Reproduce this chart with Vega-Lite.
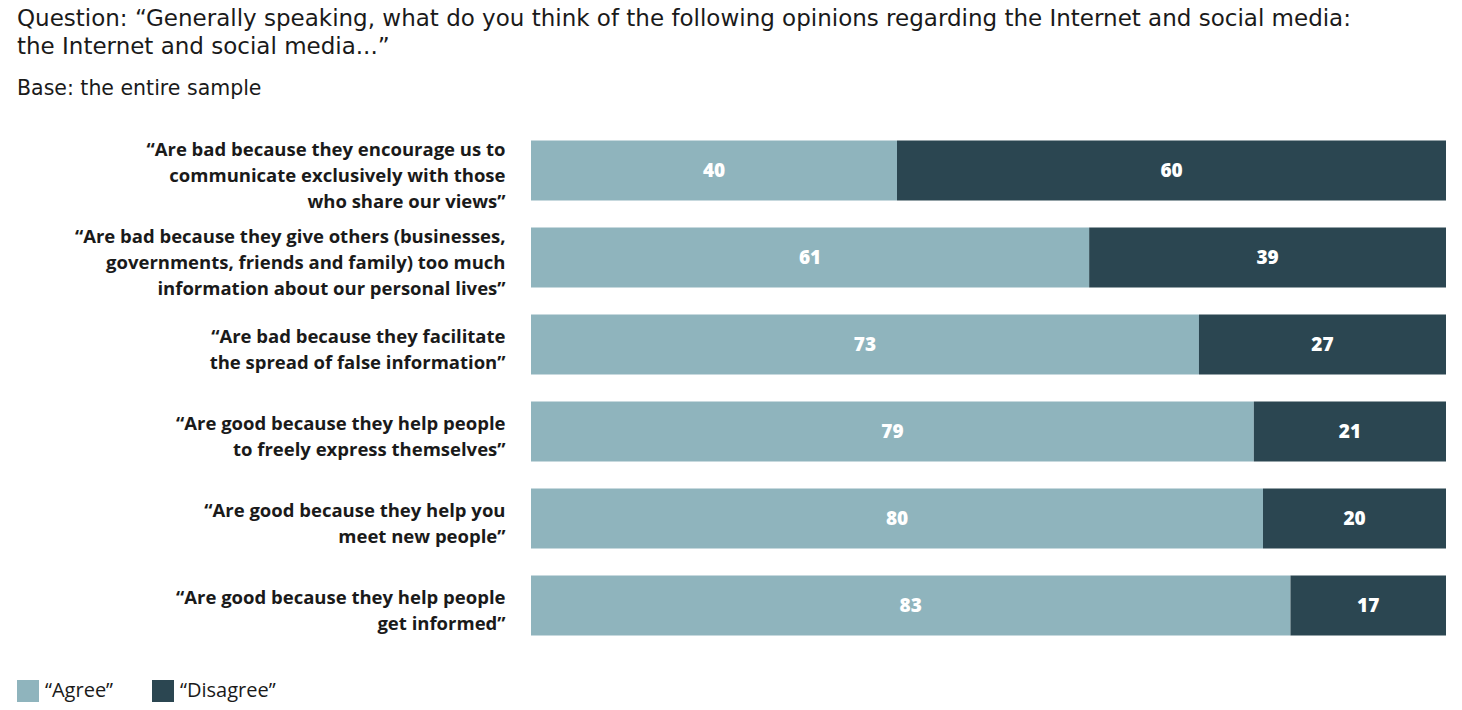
{
  "$schema": "https://vega.github.io/schema/vega-lite/v6.json",
  "autosize": {"type": "none"},
  "width": 915,
  "height": 522,
  "padding": {"left": 531, "top": 127, "right": 16, "bottom": 61},
  "background": "white",
  "title": {
    "text": ["Question: “Generally speaking, what do you think of the following opinions regarding the Internet and social media:", "the Internet and social media...”"],
    "subtitle": "Base: the entire sample",
    "anchor": "start",
    "frame": "group",
    "dx": -514,
    "offset": 28,
    "font": "DejaVu Sans",
    "fontSize": 23,
    "fontWeight": "normal",
    "lineHeight": 27.5,
    "color": "#1a1a1a",
    "subtitleFont": "DejaVu Sans",
    "subtitleFontSize": 20.5,
    "subtitleColor": "#1a1a1a",
    "subtitlePadding": 20
  },
  "data": {
    "values": [
      {"q": "1", "label": "“Are bad because they encourage us to|communicate exclusively with those|who share our views”", "answer": "“Agree”", "order": 1, "value": 40},
      {"q": "1", "label": "“Are bad because they encourage us to|communicate exclusively with those|who share our views”", "answer": "“Disagree”", "order": 2, "value": 60},
      {"q": "2", "label": "“Are bad because they give others (businesses,|governments, friends and family) too much|information about our personal lives”", "answer": "“Agree”", "order": 1, "value": 61},
      {"q": "2", "label": "“Are bad because they give others (businesses,|governments, friends and family) too much|information about our personal lives”", "answer": "“Disagree”", "order": 2, "value": 39},
      {"q": "3", "label": "“Are bad because they facilitate|the spread of false information”", "answer": "“Agree”", "order": 1, "value": 73},
      {"q": "3", "label": "“Are bad because they facilitate|the spread of false information”", "answer": "“Disagree”", "order": 2, "value": 27},
      {"q": "4", "label": "“Are good because they help people|to freely express themselves”", "answer": "“Agree”", "order": 1, "value": 79},
      {"q": "4", "label": "“Are good because they help people|to freely express themselves”", "answer": "“Disagree”", "order": 2, "value": 21},
      {"q": "5", "label": "“Are good because they help you|meet new people”", "answer": "“Agree”", "order": 1, "value": 80},
      {"q": "5", "label": "“Are good because they help you|meet new people”", "answer": "“Disagree”", "order": 2, "value": 20},
      {"q": "6", "label": "“Are good because they help people|get informed”", "answer": "“Agree”", "order": 1, "value": 83},
      {"q": "6", "label": "“Are good because they help people|get informed”", "answer": "“Disagree”", "order": 2, "value": 17}
    ]
  },
  "transform": [
    {"stack": "value", "groupby": ["q"], "sort": [{"field": "order", "order": "ascending"}], "as": ["v0", "v1"]},
    {"calculate": "(datum.v0 + datum.v1) / 2", "as": "mid"}
  ],
  "encoding": {
    "y": {
      "field": "label",
      "type": "nominal",
      "sort": {"field": "q", "order": "ascending"},
      "title": null,
      "scale": {"paddingInner": 0.31, "paddingOuter": 0.155},
      "axis": {
        "domain": false,
        "ticks": false,
        "labelExpr": "split(datum.label, '|')",
        "labelFont": "Open Sans",
        "labelFontSize": 18.5,
        "labelFontWeight": "bold",
        "labelColor": "#1a1a1a",
        "labelLineHeight": 26,
        "labelPadding": 26,
        "labelLimit": 600,
        "labelOffset": {
          "condition": {"test": "length(split(datum.value, '|')) == 3", "value": -21},
          "value": -8
        }
      }
    }
  },
  "layer": [
    {
      "mark": {"type": "bar", "stroke": null},
      "encoding": {
        "x": {"field": "v0", "type": "quantitative", "scale": {"domain": [0, 100], "nice": false}, "axis": null},
        "x2": {"field": "v1"},
        "color": {
          "field": "answer",
          "type": "nominal",
          "sort": ["“Agree”", "“Disagree”"],
          "scale": {"domain": ["“Agree”", "“Disagree”"], "range": ["#8fb4bd", "#2b4651"]},
          "legend": {
            "title": null,
            "orient": "none",
            "direction": "horizontal",
            "legendX": -514,
            "legendY": 553,
            "symbolType": "square",
            "symbolSize": 484,
            "symbolStrokeWidth": 0,
            "labelFont": "Open Sans",
            "labelFontSize": 20,
            "labelColor": "#1a1a1a",
            "labelOffset": 6,
            "columnPadding": 38
          }
        }
      }
    },
    {
      "mark": {"type": "text", "color": "white", "font": "Open Sans", "fontSize": 19, "fontWeight": 800, "align": "center", "baseline": "middle"},
      "encoding": {
        "x": {"field": "mid", "type": "quantitative"},
        "text": {"field": "value", "type": "quantitative"}
      }
    }
  ],
  "config": {"view": {"stroke": null}}
}
